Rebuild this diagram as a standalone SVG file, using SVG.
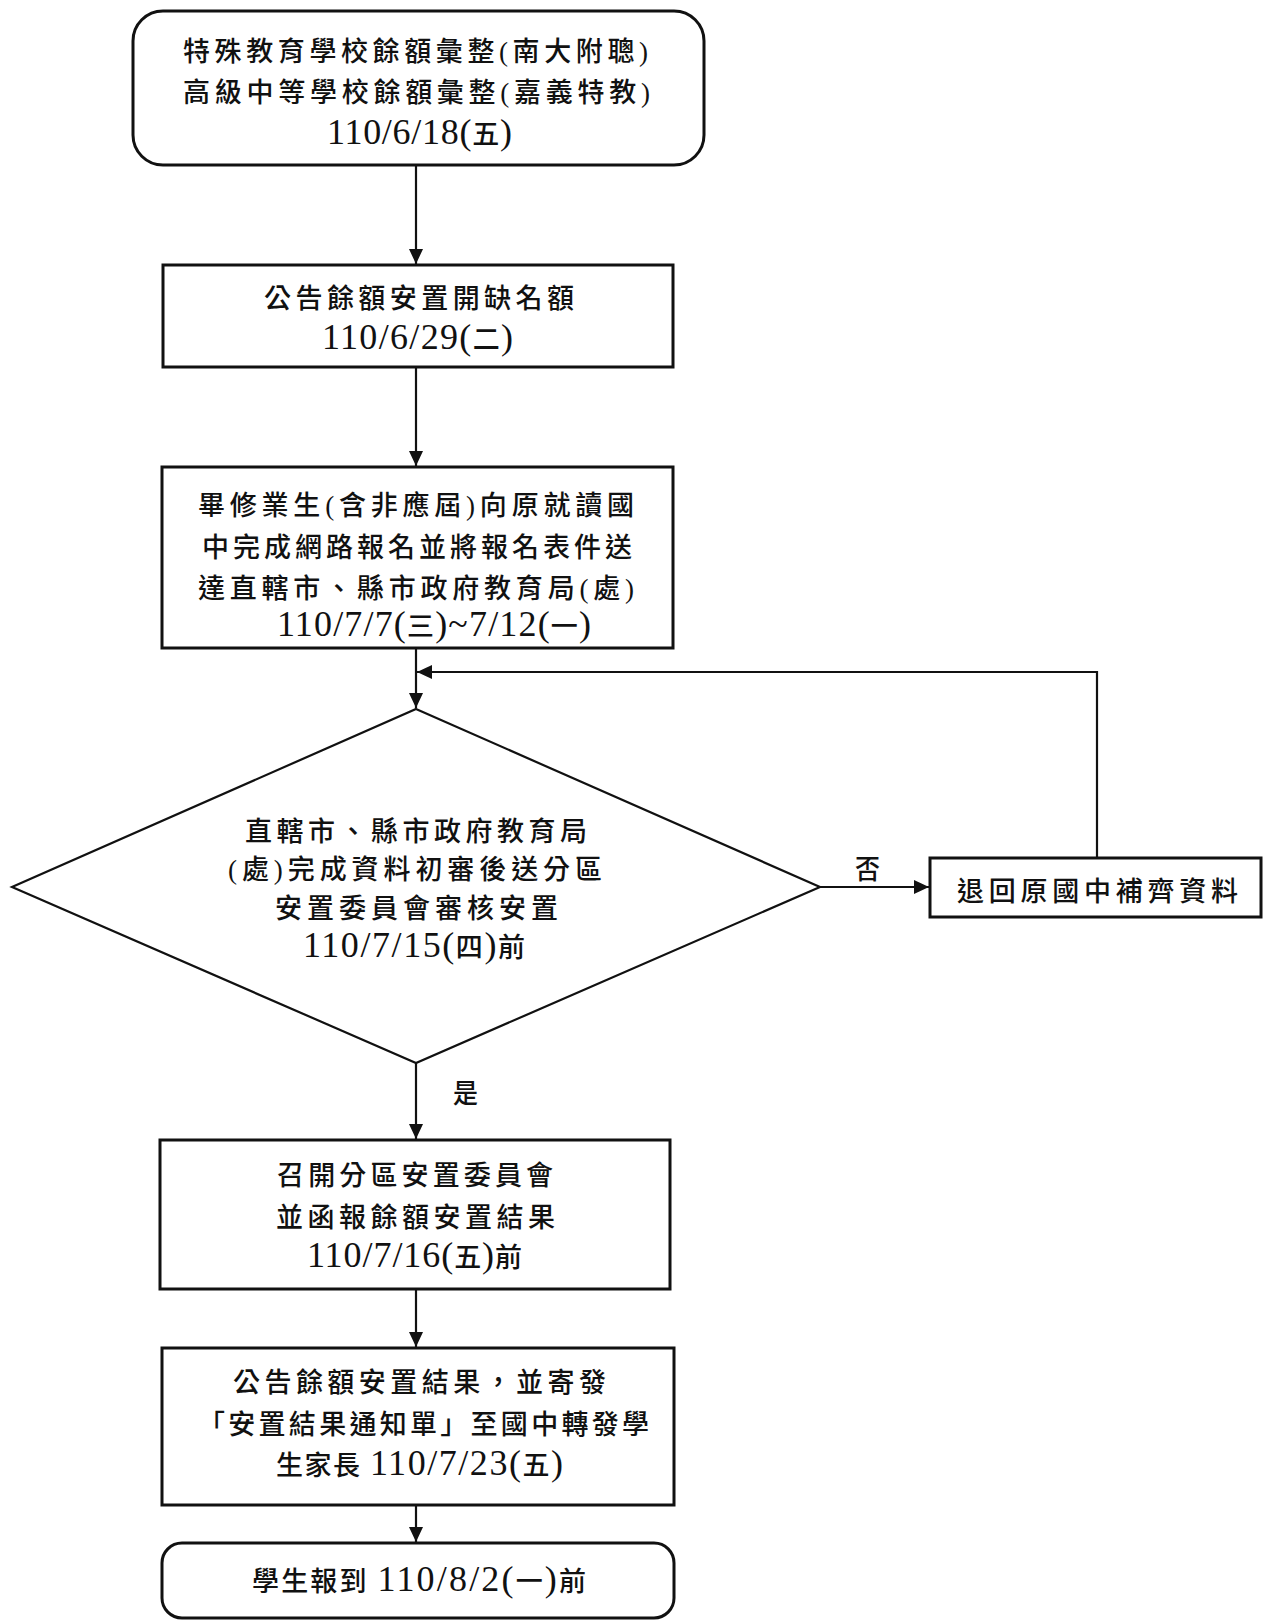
<svg xmlns="http://www.w3.org/2000/svg" width="1263" height="1621" viewBox="0 0 1263 1621">
<style>
.box{fill:#fff;stroke:#111;stroke-width:3}
.dia{fill:#fff;stroke:#111;stroke-width:2.2}
.ln{fill:none;stroke:#111;stroke-width:2.2}
text{font-family:"Liberation Serif","Noto Sans CJK TC",serif;font-size:27px;font-weight:500;fill:#111}
.d{font-size:36px;font-weight:400}
</style>
<defs>
<marker id="ah" markerUnits="userSpaceOnUse" markerWidth="16" markerHeight="14" refX="15" refY="7" orient="auto">
<path d="M0,0 L15,7 L0,14 z" fill="#111"/>
</marker>
</defs>
<rect width="1263" height="1621" fill="#fff"/>
<g id="connectors">
<line class="ln" x1="416" y1="165" x2="416" y2="264" marker-end="url(#ah)"/>
<line class="ln" x1="416" y1="367" x2="416" y2="466" marker-end="url(#ah)"/>
<line class="ln" x1="416" y1="648" x2="416" y2="708" marker-end="url(#ah)"/>
<polyline class="ln" points="1097,858 1097,672 417,672" marker-end="url(#ah)"/>
<line class="ln" x1="820" y1="887" x2="929" y2="887" marker-end="url(#ah)"/>
<line class="ln" x1="416" y1="1063" x2="416" y2="1139" marker-end="url(#ah)"/>
<line class="ln" x1="416" y1="1289" x2="416" y2="1347" marker-end="url(#ah)"/>
<line class="ln" x1="416" y1="1505" x2="416" y2="1542" marker-end="url(#ah)"/>
<text x="855" y="879" textLength="25" lengthAdjust="spacingAndGlyphs">否</text>
<text x="453" y="1103" textLength="25" lengthAdjust="spacingAndGlyphs">是</text>
</g>
<g id="n1">
<rect class="box" x="133" y="11" width="571" height="154" rx="30"/>
<text x="183" y="61" textLength="465" lengthAdjust="spacing">特殊教育學校餘額彙整(南大附聰)</text>
<text x="183" y="102" textLength="467" lengthAdjust="spacing">高級中等學校餘額彙整(嘉義特教)</text>
<text x="327" y="144" textLength="185" lengthAdjust="spacing"><tspan class="d">110/6/18(</tspan>五<tspan class="d">)</tspan></text>
</g>
<g id="n2">
<rect class="box" x="163" y="265" width="510" height="102"/>
<text x="264" y="308" textLength="310" lengthAdjust="spacing">公告餘額安置開缺名額</text>
<text x="322" y="349" textLength="191" lengthAdjust="spacing"><tspan class="d">110/6/29(</tspan>二<tspan class="d">)</tspan></text>
</g>
<g id="n3">
<rect class="box" x="162" y="467" width="511" height="181"/>
<text x="198" y="515" textLength="436" lengthAdjust="spacing">畢修業生(含非應屆)向原就讀國</text>
<text x="202" y="557" textLength="430" lengthAdjust="spacing">中完成網路報名並將報名表件送</text>
<text x="198" y="598" textLength="436" lengthAdjust="spacing">達直轄市、縣市政府教育局(處)</text>
<text x="277" y="636" textLength="314" lengthAdjust="spacing"><tspan class="d">110/7/7(</tspan>三<tspan class="d">)~7/12(</tspan>一<tspan class="d">)</tspan></text>
</g>
<g id="n4">
<polygon class="dia" points="416,709 820,887 416,1063 12,887"/>
<text x="245" y="841" textLength="342" lengthAdjust="spacing">直轄市、縣市政府教育局</text>
<text x="228" y="879" textLength="374" lengthAdjust="spacing">(處)完成資料初審後送分區</text>
<text x="275" y="918" textLength="283" lengthAdjust="spacing">安置委員會審核安置</text>
<text x="303" y="957" textLength="222" lengthAdjust="spacing"><tspan class="d">110/7/15(</tspan>四<tspan class="d">)</tspan>前</text>
</g>
<g id="n5">
<rect class="box" x="930" y="858" width="331" height="59"/>
<text x="957" y="901" textLength="281" lengthAdjust="spacing">退回原國中補齊資料</text>
</g>
<g id="n6">
<rect class="box" x="160" y="1140" width="510" height="149"/>
<text x="277" y="1185" textLength="276" lengthAdjust="spacing">召開分區安置委員會</text>
<text x="276" y="1227" textLength="279" lengthAdjust="spacing">並函報餘額安置結果</text>
<text x="307" y="1267" textLength="215" lengthAdjust="spacing"><tspan class="d">110/7/16(</tspan>五<tspan class="d">)</tspan>前</text>
</g>
<g id="n7">
<rect class="box" x="162" y="1348" width="512" height="157"/>
<text x="233" y="1392" textLength="373" lengthAdjust="spacing">公告餘額安置結果，並寄發</text>
<text x="198" y="1434" textLength="451" lengthAdjust="spacing">「安置結果通知單」至國中轉發學</text>
<text x="276" y="1475" textLength="287" lengthAdjust="spacing">生家長 <tspan class="d">110/7/23(</tspan>五<tspan class="d">)</tspan></text>
</g>
<g id="n8">
<rect class="box" x="162" y="1543" width="512" height="75" rx="20"/>
<text x="252" y="1591" textLength="334" lengthAdjust="spacing">學生報到 <tspan class="d">110/8/2(</tspan>一<tspan class="d">)</tspan>前</text>
</g>
</svg>
